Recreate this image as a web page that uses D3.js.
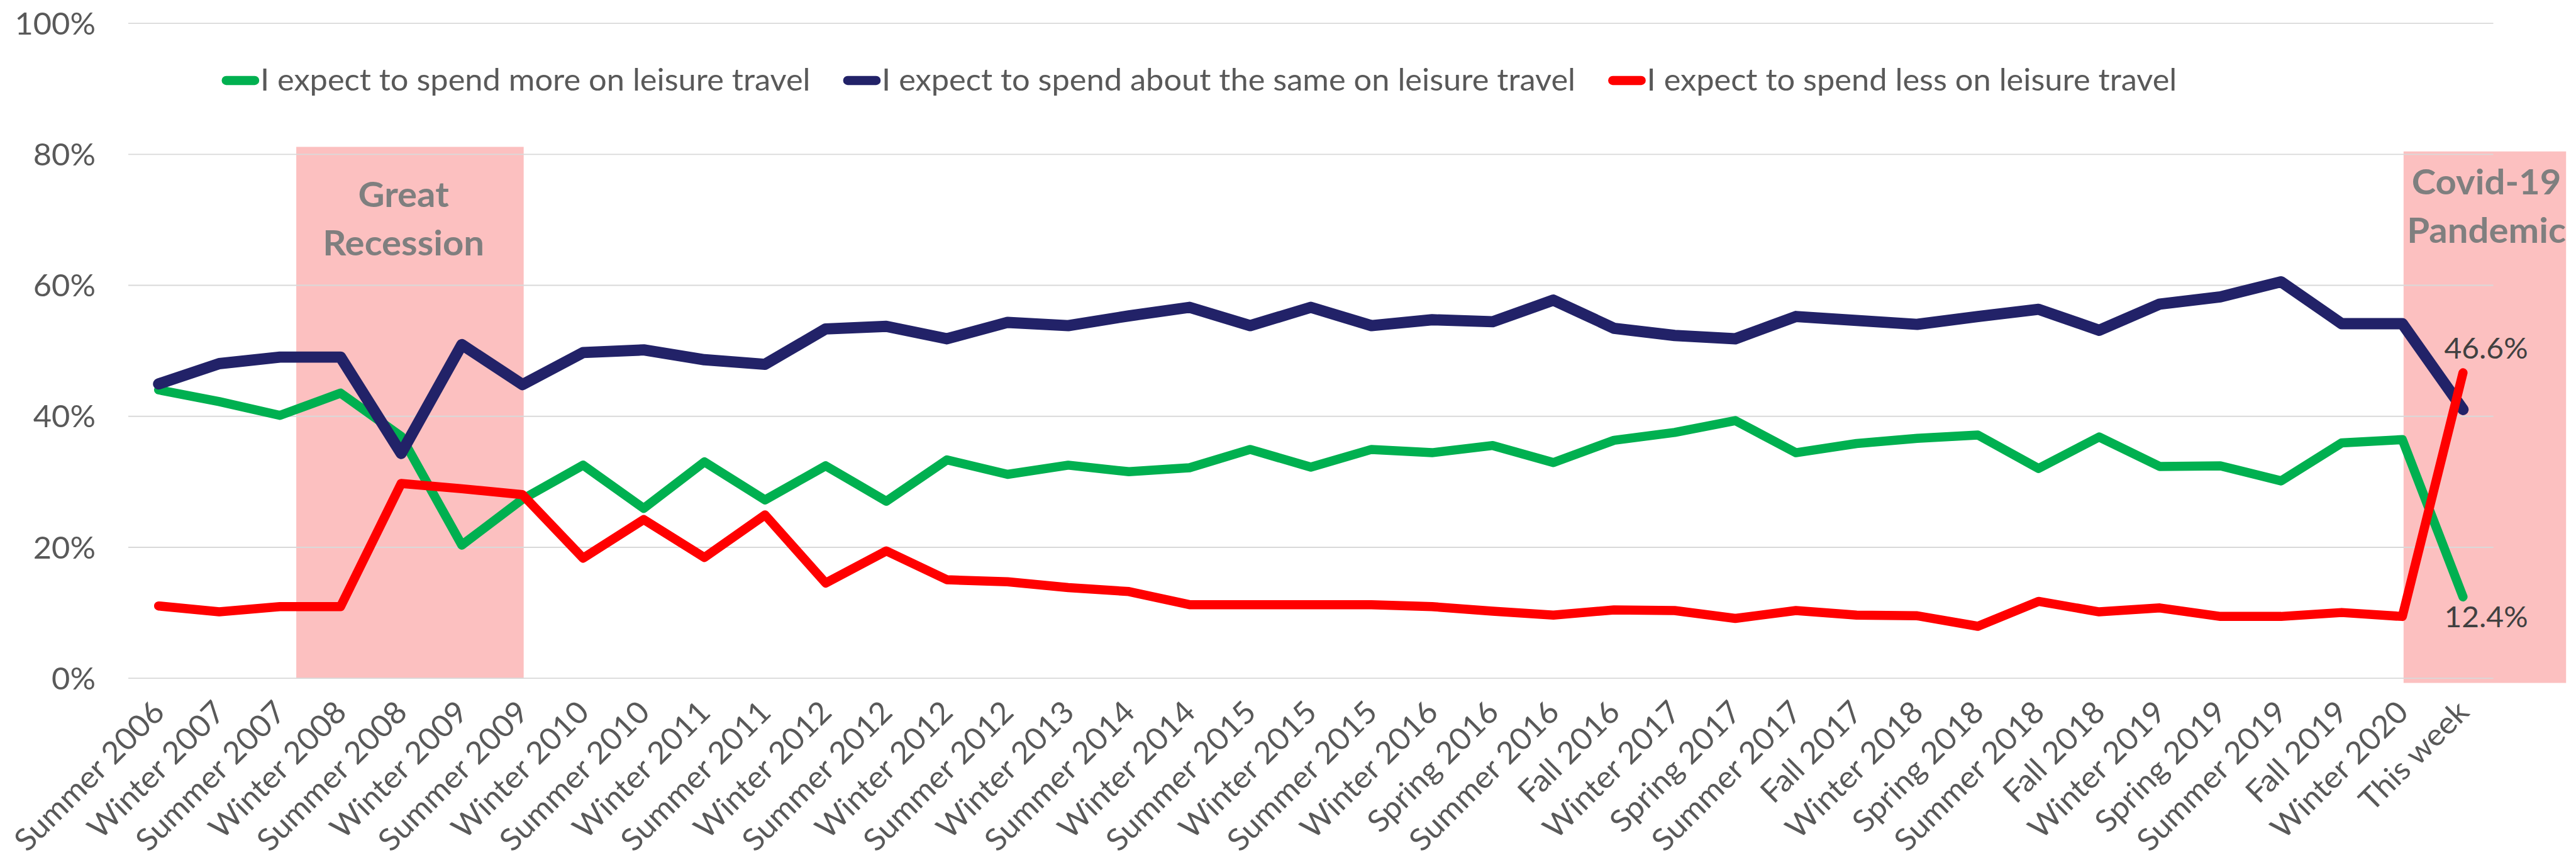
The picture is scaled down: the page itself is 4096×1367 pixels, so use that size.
<!DOCTYPE html>
<html>
<head>
<meta charset="utf-8">
<title>Leisure travel spending expectations</title>
<script src="https://cdn.jsdelivr.net/npm/d3@7"></script>
<style>
  html, body { margin: 0; padding: 0; background: #ffffff; }
  svg { display: block; }
</style>
</head>
<body>
<svg id="chart"></svg>
<script>
// ---- Data -----------------------------------------------------------------
const categories = [
  "Summer 2006", "Winter 2007", "Summer 2007", "Winter 2008", "Summer 2008",
  "Winter 2009", "Summer 2009", "Winter 2010", "Summer 2010", "Winter 2011",
  "Summer 2011", "Winter 2012", "Summer 2012", "Winter 2012", "Summer 2012",
  "Winter 2013", "Summer 2014", "Winter 2014", "Summer 2015", "Winter 2015",
  "Summer 2015", "Winter 2016", "Spring 2016", "Summer 2016", "Fall 2016",
  "Winter 2017", "Spring 2017", "Summer 2017", "Fall 2017", "Winter 2018",
  "Spring 2018", "Summer 2018", "Fall 2018", "Winter 2019", "Spring 2019",
  "Summer 2019", "Fall 2019", "Winter 2020", "This week"
];

// percent of respondents
const spendMore = [
  44.0, 42.2, 40.1, 43.5, 36.9, 20.3, 27.3, 32.5, 25.9, 33.0,
  27.2, 32.4, 27.0, 33.3, 31.1, 32.5, 31.5, 32.1, 34.9, 32.2,
  34.9, 34.4, 35.5, 32.9, 36.3, 37.5, 39.3, 34.4, 35.8, 36.6,
  37.1, 32.0, 36.8, 32.3, 32.4, 30.1, 35.9, 36.4, 12.4
];
const spendSame = [
  44.9, 48.0, 49.0, 49.0, 34.3, 50.9, 44.8, 49.7, 50.1, 48.6,
  47.9, 53.3, 53.7, 51.8, 54.3, 53.8, 55.3, 56.6, 53.8, 56.6,
  53.8, 54.7, 54.4, 57.7, 53.4, 52.3, 51.8, 55.2, 54.6, 54.0,
  55.2, 56.3, 53.1, 57.1, 58.2, 60.5, 54.1, 54.1, 41.0
];
const spendLess = [
  11.0, 10.1, 10.9, 10.9, 29.7, 28.9, 28.0, 18.3, 24.2, 18.4,
  24.9, 14.5, 19.4, 15.0, 14.7, 13.8, 13.2, 11.2, 11.2, 11.2,
  11.2, 10.9, 10.2, 9.6, 10.4, 10.3, 9.1, 10.3, 9.6, 9.5,
  7.9, 11.7, 10.1, 10.7, 9.4, 9.4, 10.0, 9.4, 46.6
];

const seriesNames = [
  "I expect to spend more on leisure travel",
  "I expect to spend about the same on leisure travel",
  "I expect to spend less on leisure travel"
];
const seriesValues = [spendMore, spendSame, spendLess];
const seriesColors = ["#00B050", "#222268", "#FF0000"];
const seriesWidths = [17, 21, 17];

const yTicks = [0, 20, 40, 60, 80, 100];

// shaded periods, in category-index units along x and percent along y
const periodNames = [["Great", "Recession"], ["Covid-19", "Pandemic"]];
const periodFrom = [2.27, 37.02];
const periodTo = [6.02, 39.7];
const periodTop = [81.1, 80.4];
const periodBottom = [-0.1, -0.75];

// ---- Layout ---------------------------------------------------------------
const W = 4800, H = 1602;
const margin = { left: 239, right: 154, top: 43, bottom: 339 };
const plotW = W - margin.left - margin.right;
const plotH = H - margin.top - margin.bottom;
const FONT = "Lato, 'Open Sans', 'DejaVu Sans', sans-serif";
const TEXT = "#595959";

const svg = d3.select("#chart")
  .attr("width", 4096)
  .attr("height", 1367)
  .attr("viewBox", `0 0 ${W} ${H}`)
  .style("font-family", FONT);

svg.append("rect").attr("width", W).attr("height", H).attr("fill", "#ffffff");

const idx = d3.range(categories.length);
const x = d3.scalePoint().domain(idx).range([margin.left, margin.left + plotW]).padding(0.5);
const xPos = d3.scaleLinear().domain([-0.5, categories.length - 0.5]).range([margin.left, margin.left + plotW]);
const y = d3.scaleLinear().domain([0, 100]).range([margin.top + plotH, margin.top]);

// Widen/narrow glyph runs so Lato occupies the same room as the original face
function fit(sel, k) {
  sel.each(function () {
    const w = this.getComputedTextLength();
    d3.select(this).attr("textLength", w * k).attr("lengthAdjust", "spacingAndGlyphs");
  });
}

// measure a reference string to get the width factor for regular text
const probe = svg.append("text").attr("font-size", 57.5).text(seriesNames[0]);
const kReg = 1025 / probe.node().getComputedTextLength();
probe.remove();
const probeB = svg.append("text").attr("font-size", 64).attr("font-weight", 700).text("Recession");
const kBold = 301 / probeB.node().getComputedTextLength();
probeB.remove();

// ---- Shaded periods -------------------------------------------------------
const shade = svg.append("g");
periodNames.forEach((lines, i) => {
  shade.append("rect")
    .attr("x", xPos(periodFrom[i]))
    .attr("y", y(periodTop[i]))
    .attr("width", xPos(periodTo[i]) - xPos(periodFrom[i]))
    .attr("height", y(periodBottom[i]) - y(periodTop[i]))
    .attr("fill", "#FCC0C0");
});

// ---- Gridlines --------------------------------------------------------------
const grid = svg.append("g")
  .attr("transform", `translate(${margin.left},0)`)
  .call(d3.axisRight(y).tickValues(yTicks).tickSize(plotW).tickFormat(""));
grid.select(".domain").remove();
grid.selectAll("line").attr("stroke", "#D9D9D9").attr("stroke-width", 2.2);

// ---- Period titles ------------------------------------------------------------
const titleCenter = [-12, 3];      // offset from the shaded band's centre
const titleFirstBase = [112, 80];  // first baseline below the band's top
periodNames.forEach((lines, i) => {
  const cx = (xPos(periodFrom[i]) + xPos(periodTo[i])) / 2 + titleCenter[i];
  lines.forEach((ln, j) => {
    const t = svg.append("text")
      .attr("x", cx)
      .attr("y", y(periodTop[i]) + titleFirstBase[i] + j * 90)
      .attr("text-anchor", "middle")
      .attr("font-size", 64)
      .attr("font-weight", 700)
      .attr("fill", "#7F7F7F")
      .text(ln);
    fit(t, kBold);
  });
});

// ---- Y axis labels ---------------------------------------------------------------
const yAxis = svg.append("g")
  .attr("transform", `translate(${margin.left},0)`)
  .call(d3.axisLeft(y).tickValues(yTicks).tickSize(0).tickPadding(61).tickFormat(d => d + "%"));
yAxis.select(".domain").remove();
yAxis.selectAll("text")
  .attr("font-size", 57.5)
  .attr("font-family", FONT)
  .attr("fill", TEXT)
  .attr("dy", "0.36em")
  .call(fit, kReg);

// ---- X axis labels ---------------------------------------------------------------
const xAxis = svg.append("g")
  .attr("transform", `translate(0,${margin.top + plotH})`)
  .call(d3.axisBottom(x).tickSize(0).tickFormat(i => categories[i]));
xAxis.select(".domain").remove();
xAxis.selectAll("text")
  .attr("font-size", 57.5)
  .attr("font-family", FONT)
  .attr("fill", TEXT)
  .attr("text-anchor", "end")
  .attr("x", 0).attr("y", 0).attr("dy", 0)
  .attr("transform", "translate(14,67) rotate(-45)")
  .call(fit, kReg);

// ---- Series lines -----------------------------------------------------------------
const line = d3.line().x((d, i) => x(i)).y(d => y(d));
seriesValues.forEach((vals, s) => {
  svg.append("path")
    .datum(vals)
    .attr("d", line)
    .attr("fill", "none")
    .attr("stroke", seriesColors[s])
    .attr("stroke-width", seriesWidths[s])
    .attr("stroke-linecap", "round")
    .attr("stroke-linejoin", "round");
});

// ---- Value labels on the latest point -----------------------------------------------
const last = categories.length - 1;
const fmt = v => d3.format(".1f")(v) + "%";
[
  { vals: spendLess, dy: -26.5 },
  { vals: spendMore, dy: 57 }
].forEach(o => {
  const t = svg.append("text")
    .attr("x", x(last) + 43)
    .attr("y", y(o.vals[last]) + o.dy)
    .attr("text-anchor", "middle")
    .attr("font-size", 54.5)
    .attr("fill", "#404040")
    .text(fmt(o.vals[last]));
  fit(t, kReg);
});

// ---- Legend ----------------------------------------------------------------------------
const legend = svg.append("g");
let lx = 413;
seriesNames.forEach((name, s) => {
  legend.append("line")
    .attr("x1", lx + 8.5).attr("x2", lx + 61.5)
    .attr("y1", 150).attr("y2", 150)
    .attr("stroke", seriesColors[s])
    .attr("stroke-width", 17)
    .attr("stroke-linecap", "round");
  const t = legend.append("text")
    .attr("x", lx + 72)
    .attr("y", 169)
    .attr("font-size", 57.5)
    .attr("fill", TEXT)
    .text(name);
  const w = t.node().getComputedTextLength() * kReg;
  fit(t, kReg);
  lx += 72 + w + 61;
});
</script>
</body>
</html>
